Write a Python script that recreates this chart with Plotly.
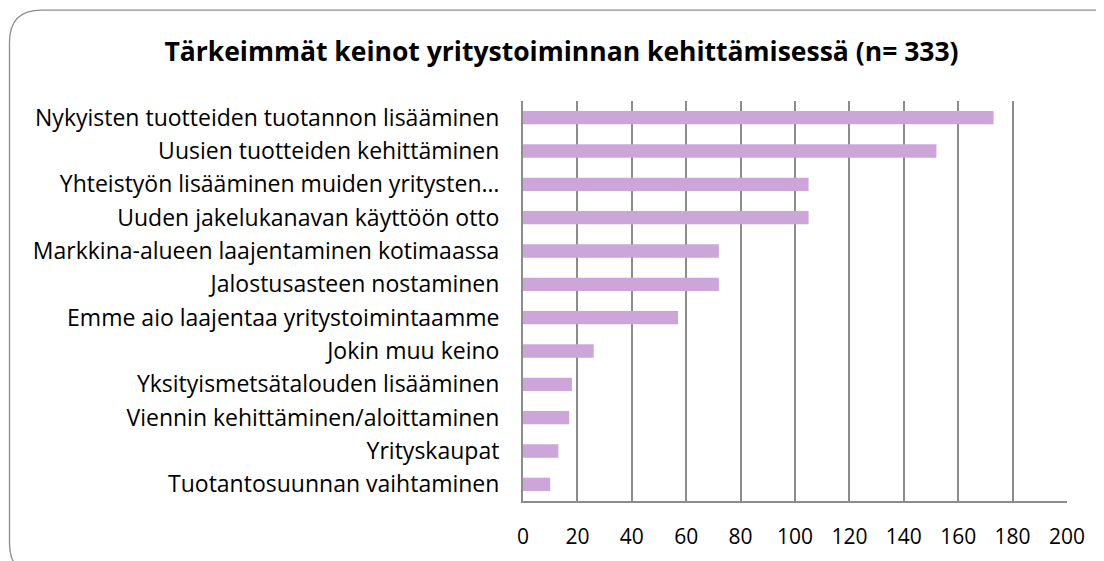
import plotly.graph_objects as go

categories = [
    "Nykyisten tuotteiden tuotannon lisääminen",
    "Uusien tuotteiden kehittäminen",
    "Yhteistyön lisääminen muiden yritysten…",
    "Uuden jakelukanavan käyttöön otto",
    "Markkina-alueen laajentaminen kotimaassa",
    "Jalostusasteen nostaminen",
    "Emme aio laajentaa yritystoimintaamme",
    "Jokin muu keino",
    "Yksityismetsätalouden lisääminen",
    "Viennin kehittäminen/aloittaminen",
    "Yrityskaupat",
    "Tuotantosuunnan vaihtaminen",
]
values = [173, 152, 105, 105, 72, 72, 57, 26, 18, 17, 13, 10]
tick_vals = [0, 20, 40, 60, 80, 100, 120, 140, 160, 180, 200]
title_text = "Tärkeimmät keinot yritystoiminnan kehittämisessä (n= 333)"

W, H = 1104, 561
OFF = 8  # page offset of the plot div
# target screen positions of plot area
SL, SR, ST, SB = 523, 1067, 101, 501.5
L = SL - OFF
T = ST - OFF
R = W - (SR - OFF)
B = H - (SB - OFF)
pw, ph = W - L - R, H - T - B


def px(x):
    return (x - OFF - L) / pw


def py(y):
    return (H - B - (y - OFF)) / ph


fig = go.Figure(
    go.Bar(
        x=values,
        y=categories,
        orientation="h",
        marker=dict(color="#CCA6D9", line=dict(width=0)),
        hoverinfo="x+y",
    )
)

# rounded frame (screen coords)
x0, y0, x1, y1, r = 9.5, 10, 1126, 576, 32
path = (
    f"M {px(x0 + r)} {py(y0)} L {px(x1 - r)} {py(y0)} "
    f"Q {px(x1)} {py(y0)} {px(x1)} {py(y0 + r)} "
    f"L {px(x1)} {py(y1 - r)} Q {px(x1)} {py(y1)} {px(x1 - r)} {py(y1)} "
    f"L {px(x0 + r)} {py(y1)} Q {px(x0)} {py(y1)} {px(x0)} {py(y1 - r)} "
    f"L {px(x0)} {py(y0 + r)} Q {px(x0)} {py(y0)} {px(x0 + r)} {py(y0)} Z"
)

fig.update_layout(
    width=W,
    height=H,
    margin=dict(l=L, r=R, t=T, b=B, pad=0),
    paper_bgcolor="white",
    plot_bgcolor="white",
    bargap=0.6,
    showlegend=False,
    title=dict(
        text="<b>" + title_text + "</b>",
        x=((165 + 958) / 2 - OFF) / W,
        xanchor="center",
        y=1 - (52 - OFF) / H,
        yanchor="middle",
        font=dict(family="Open Sans", size=26.5, color="black"),
    ),
    font=dict(family="Open Sans", color="black"),
    shapes=[
        dict(
            type="path",
            xref="paper",
            yref="paper",
            path=path,
            line=dict(color="#8C8C8C", width=1.3),
            fillcolor="rgba(0,0,0,0)",
            layer="below",
        )
    ],
)

fig.update_xaxes(
    range=[0, 200],
    tickvals=tick_vals,
    ticktext=[str(v) for v in tick_vals],
    showgrid=True,
    gridcolor="#8C8C8C",
    gridwidth=1.5,
    showline=True,
    linecolor="#8C8C8C",
    linewidth=2,
    zeroline=False,
    ticks="",
    ticklabelstandoff=16,
    tickfont=dict(family="Open Sans", size=21, color="black"),
    fixedrange=True,
)
fig.update_yaxes(
    categoryorder="array",
    categoryarray=categories[::-1],
    autorange=True,
    showgrid=False,
    showline=True,
    linecolor="#8C8C8C",
    linewidth=2,
    ticks="",
    ticklabelstandoff=17,
    tickfont=dict(family="Open Sans", size=23, color="black"),
    fixedrange=True,
)

fig.write_html("out.html")
